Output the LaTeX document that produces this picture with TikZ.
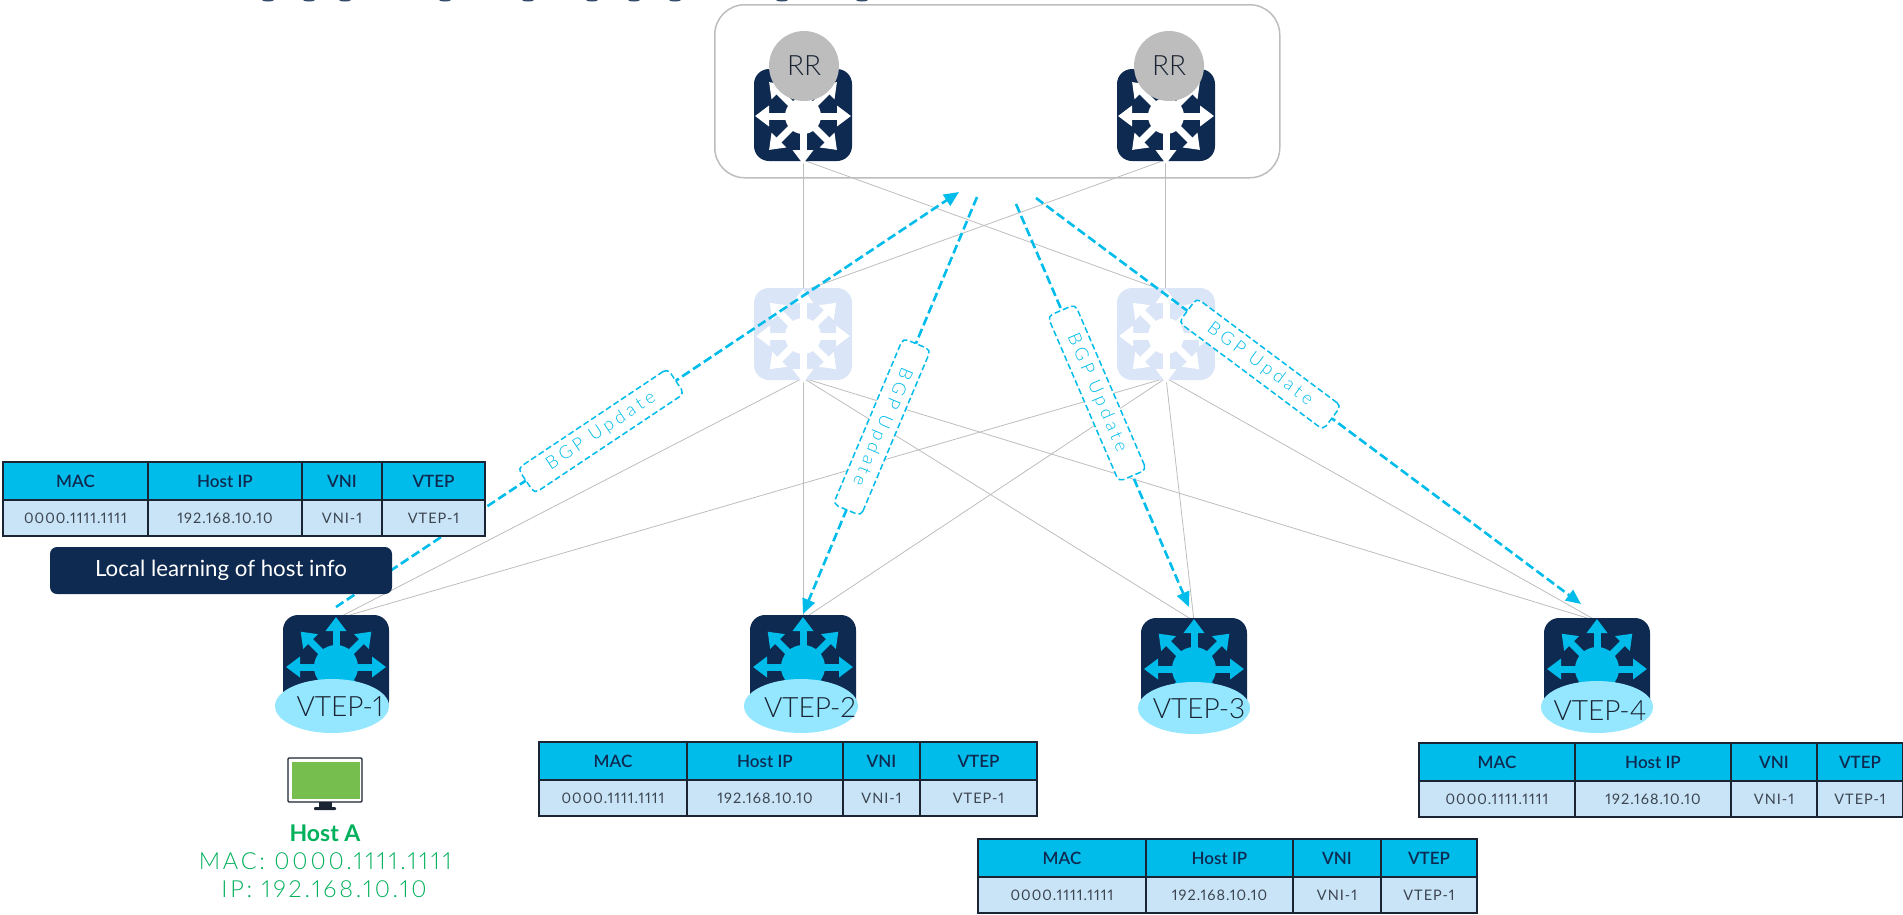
\documentclass[tikz,border=0pt]{standalone}
\usepackage{fontspec}
\setmainfont{Lato}[Numbers=Proportional]
\newfontfamily\thinfont{Lato Light}[Numbers=Proportional]
\newfontfamily\headfont{Lato Semibold}[Numbers=Proportional]
\usetikzlibrary{positioning, arrows.meta}
\definecolor{navy}{HTML}{0F2A50}
\definecolor{ciscoblue}{HTML}{00BCEB}
\definecolor{paleblue}{HTML}{C9E4F6}
\definecolor{fadeblue}{HTML}{DAE5F7}
\definecolor{vtepblue}{HTML}{94E7FF}
\definecolor{linegray}{HTML}{BDBDBD}
\definecolor{hostgreen}{HTML}{00B05A}
\definecolor{screengreen}{HTML}{76BE4E}
\definecolor{cellline}{HTML}{1A2433}

\newcommand{\swarrows}[4]{
\begin{scope}[shift={(#1)}]
\fill [#2] (0,0) circle (#4);
\foreach \a in {0,45,...,315}
  \draw [#2, line width=7pt, -{Triangle[length=14pt,width=20pt]}] (0,0) -- (\a:#3);
\end{scope}
}
\newcommand{\hosttable}[7]{
\node [headcell, minimum width=#4pt, anchor=north west] (#1mac) at (#2,#3) {MAC};
\node [headcell, minimum width=#5pt, right=0pt of #1mac] (#1ip) {Host IP};
\node [headcell, minimum width=#6pt, right=0pt of #1ip] (#1vni) {VNI};
\node [headcell, minimum width=#7pt, right=0pt of #1vni] (#1vtep) {VTEP};
\node [bodycell, minimum width=#4pt, below=0pt of #1mac] (#1macv) {0000.1111.1111};
\node [bodycell, minimum width=#5pt, below=0pt of #1ip] (#1ipv) {192.168.10.10};
\node [bodycell, minimum width=#6pt, below=0pt of #1vni] (#1vniv) {VNI-1};
\node [bodycell, minimum width=#7pt, below=0pt of #1vtep] (#1vtepv) {VTEP-1};
}

\begin{document}
\begin{tikzpicture}[x=1pt, y=-1pt,
swbox/.style = {rectangle, rounded corners=15pt, fill=navy, minimum width=98pt, minimum height=92pt, inner sep=0pt},
spinebox/.style = {swbox, fill=fadeblue},
leafbox/.style = {swbox, minimum width=106pt, minimum height=100pt},
rrcircle/.style = {circle, fill=linegray, minimum size=70pt, inner sep=0pt, text=cellline, font=\thinfont\fontsize{28}{30}\selectfont},
vteptext/.style = {text=cellline, font=\thinfont\fontsize{28}{30}\selectfont, inner sep=0pt},
link/.style = {draw=linegray, line width=.8pt},
bgpflow/.style = {draw=ciscoblue, line width=2.6pt, dash pattern=on 9pt off 4pt, -{Triangle[length=15pt,width=13pt]}},
bgplabel/.style = {rectangle, draw=ciscoblue, line width=1.5pt, dash pattern=on 6pt off 3pt, rounded corners=5pt, fill=white, text=ciscoblue, minimum width=180pt, minimum height=30pt, inner sep=0pt, font=\thinfont\fontsize{18}{20}\selectfont\addfontfeatures{LetterSpace=21}},
headcell/.style = {rectangle, draw=cellline, line width=2pt, fill=ciscoblue, text=navy, minimum height=38pt, inner sep=0pt, outer sep=0pt, font=\headfont\fontsize{17}{19}\selectfont},
bodycell/.style = {rectangle, draw=cellline, line width=2pt, fill=paleblue, text=cellline!85!white, minimum height=36pt, inner sep=0pt, outer sep=0pt, font=\fontsize{14.5}{17}\selectfont\addfontfeatures{LetterSpace=7}},
hosttext/.style = {text=hostgreen, inner sep=0pt, font=\thinfont\fontsize{23.5}{25}\selectfont\addfontfeatures{LetterSpace=12}}]

\useasboundingbox (0,0) rectangle (1903,914);

% title cut off at the top edge
\foreach \x in {268,309,345,445,528,592,634,675,782,862}
  \fill [navy!85!white] (\x,0) ellipse (6 and 1.5);

% route reflector box
\node [rectangle, draw=linegray, line width=1.5pt, rounded corners=30pt, minimum width=565pt, minimum height=173pt, anchor=north west] (rrgroup) at (714,4) {};

\coordinate (rr1) at (803,160);
\coordinate (rr2) at (1165,160);
\coordinate (sp1top) at (803,291);
\coordinate (sp2top) at (1165,291);
\coordinate (sp1) at (803,378);
\coordinate (sp2) at (1166,378);
\coordinate (leaf1) at (336,619);
\coordinate (leaf2) at (803,619);
\coordinate (leaf3) at (1194,621);
\coordinate (leaf4) at (1597,621);

\foreach \s in {rr1,rr2} \foreach \t in {sp1top,sp2top}
  \draw [link] (\s) -- (\t);
\foreach \s in {sp1,sp2} \foreach \t in {leaf1,leaf2,leaf3,leaf4}
  \draw [link] (\s) -- (\t);

\node [swbox] (rrsw1) at (803,115) {};
\node [swbox] (rrsw2) at (1166,115) {};
\swarrows{803,116}{white}{48}{18}
\swarrows{1166,116}{white}{48}{18}
\node [rrcircle] (rrc1) at (804,66) {RR};
\node [rrcircle] (rrc2) at (1169,66) {RR};

\node [spinebox] (spine1) at (803,334) {};
\node [spinebox] (spine2) at (1166,334) {};
\swarrows{803,336}{white}{47}{18}
\swarrows{1166,336}{white}{47}{18}

% leaves
\node [leafbox] (vsw1) at (336,665) {};
\node [leafbox] (vsw2) at (803,665) {};
\node [leafbox] (vsw3) at (1194,668) {};
\node [leafbox] (vsw4) at (1597,668) {};
\swarrows{336,667}{ciscoblue}{50}{22}
\swarrows{803,667}{ciscoblue}{50}{22}
\swarrows{1194,669}{ciscoblue}{50}{22}
\swarrows{1597,669}{ciscoblue}{50}{22}

\fill [vtepblue] (332,706) ellipse (57 and 27);
\fill [vtepblue] (801,706) ellipse (57 and 27);
\fill [vtepblue] (1194,708) ellipse (56 and 26);
\fill [vtepblue] (1597,707) ellipse (56 and 26);
\node [vteptext] (vtep1) at (340,707) {VTEP-1};
\node [vteptext] (vtep2) at (810,707) {VTEP-2};
\node [vteptext] (vtep3) at (1199,709) {VTEP-3};
\node [vteptext] (vtep4) at (1600,711) {VTEP-4};

% bgp updates
\coordinate (from1) at (336,607);
\coordinate (to1) at (959,192);
\coordinate (from2) at (977,197);
\coordinate (from3) at (1016,204);
\coordinate (from4) at (1036,198);
\coordinate (to2) at (803,614);
\coordinate (to3) at (1189,607);
\coordinate (to4) at (1581,604);
\draw [bgpflow] (from1) -- (to1);
\draw [bgpflow] (from2) -- (to2);
\draw [bgpflow] (from3) -- (to3);
\draw [bgpflow] (from4) -- (to4);
\node [bgplabel, rotate=33.7] (bgp1) at (601,431) {BGP Update};
\node [bgplabel, rotate=-112.8] (bgp2) at (882,427) {BGP Update};
\node [bgplabel, rotate=-66.7] (bgp3) at (1097,393) {BGP Update};
\node [bgplabel, rotate=-36.7] (bgp4) at (1260,364) {BGP Update};

% tables
\hosttable{ta}{3}{462}{145}{154}{80}{103}
\hosttable{tb}{539}{742}{148}{156}{77}{117}
\hosttable{tc}{978}{839}{168}{147}{88}{96}
\hosttable{td}{1419}{743}{156}{156}{86}{86}

\node [rectangle, fill=navy, rounded corners=7pt, text=white, minimum width=342pt, minimum height=47pt, inner sep=0pt, font=\fontsize{22.3}{24}\selectfont] (learning) at (221,570.5) {Local learning of host info};

% host
\draw [cellline, line width=1.3pt, fill=white, rounded corners=1pt] (288,758) rectangle (362,802);
\fill [screengreen] (292,762) rectangle (360,799);
\fill [cellline] (319,802) rectangle (332,807);
\fill [cellline, rounded corners=1pt] (314,807) rectangle (336,810);
\node [hosttext, font=\bfseries\fontsize{23}{25}\selectfont] (hosta) at (325,833) {Host A};
\node [hosttext] (hostmac) at (325,861) {MAC: 0000.1111.1111};
\node [hosttext] (hostip) at (324,889) {IP: 192.168.10.10};

\end{tikzpicture}
\end{document}
